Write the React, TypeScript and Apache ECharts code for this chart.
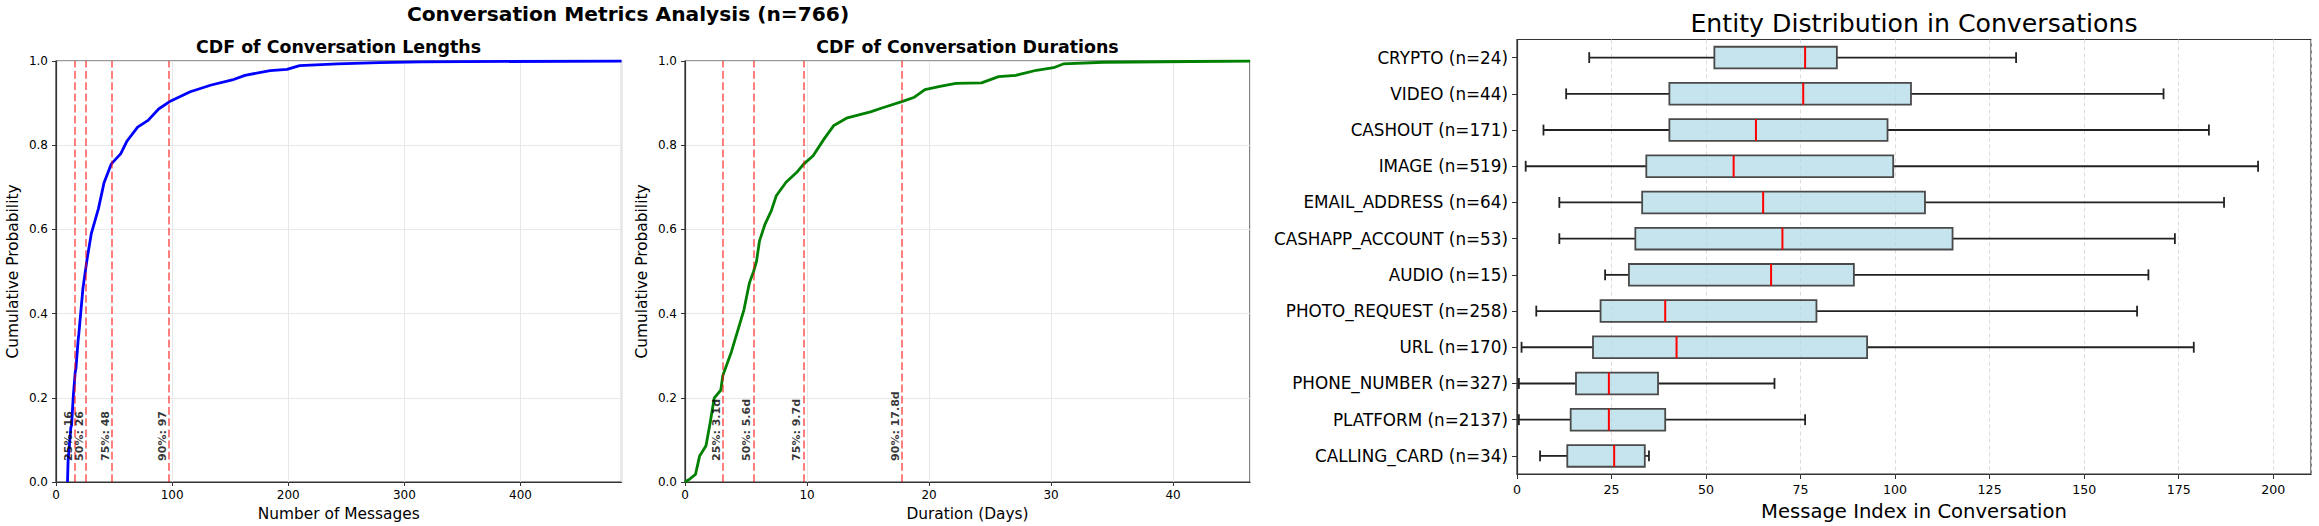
import React, { useEffect, useRef } from "react";
import * as echarts from "echarts";

// ---------- DATA ----------
const mainTitle = "Conversation Metrics Analysis (n=766)";
const lengthTitle = "CDF of Conversation Lengths";
const durationTitle = "CDF of Conversation Durations";
const boxTitle = "Entity Distribution in Conversations";

// CDF of conversation lengths (number of messages, cumulative probability)
const lengthX = [9.9, 10.4, 12.8, 13.4, 14.8, 16.5, 17.2, 19.1, 19.6, 23.2, 26.8, 30.4, 36.6, 41.3, 47.5, 55.8, 61.2, 70.3, 79.3, 88.4, 97.5, 115.6, 133.7, 151.8, 162.7, 184.4, 198.9, 209.8, 242.4, 278, 315, 487];
const lengthY = [0, 0.05, 0.13, 0.134, 0.2, 0.26, 0.27, 0.338, 0.35, 0.46, 0.53, 0.59, 0.65, 0.71, 0.755, 0.78, 0.81, 0.843, 0.859, 0.886, 0.903, 0.927, 0.943, 0.955, 0.966, 0.977, 0.98, 0.989, 0.993, 0.996, 0.998, 1.0];

// CDF of conversation durations (days, cumulative probability)
const durationX = [0, 0.34, 0.86, 1.2, 1.72, 2.07, 2.4, 2.93, 3.1, 3.8, 4.5, 4.83, 5.28, 5.62, 5.86, 6.1, 6.55, 7.07, 7.48, 8.28, 9.14, 9.72, 10.5, 11.4, 12.2, 13.3, 15.2, 16.2, 17.83, 18.8, 19.66, 20.9, 22.2, 24.3, 25.7, 27.1, 28.8, 30.2, 31.0, 34.3, 46.3];
const durationY = [0, 0.006, 0.018, 0.062, 0.086, 0.142, 0.2, 0.218, 0.253, 0.309, 0.377, 0.409, 0.473, 0.5, 0.524, 0.572, 0.612, 0.644, 0.68, 0.712, 0.735, 0.755, 0.775, 0.815, 0.847, 0.865, 0.879, 0.889, 0.904, 0.914, 0.932, 0.94, 0.947, 0.948, 0.963, 0.966, 0.978, 0.984, 0.993, 0.997, 1.0];

const pctNames = ["25%", "50%", "75%", "90%"];
const lengthPct = [16, 26, 48, 97];
const durationPct = [3.1, 5.6, 9.7, 17.8];
const pctLabelY = 0.05;

// Box plot (bottom to top)
const entities = ["CALLING_CARD (n=34)", "PLATFORM (n=2137)", "PHONE_NUMBER (n=327)", "URL (n=170)", "PHOTO_REQUEST (n=258)", "AUDIO (n=15)", "CASHAPP_ACCOUNT (n=53)", "EMAIL_ADDRESS (n=64)", "IMAGE (n=519)", "CASHOUT (n=171)", "VIDEO (n=44)", "CRYPTO (n=24)"];
const whiskerLow = [6.1, 0.5, 0.5, 1.2, 5.1, 23.3, 11.2, 11.2, 2.3, 7, 13, 19.1];
const q1 = [13.3, 14.2, 15.6, 20.1, 22.1, 29.6, 31.3, 33.1, 34.2, 40.3, 40.3, 52.2];
const median = [25.7, 24.3, 24.3, 42.2, 39.2, 67.2, 70.2, 65.1, 57.3, 63.2, 75.7, 76.2];
const q3 = [33.8, 39.2, 37.3, 92.6, 79.2, 89.1, 115.2, 107.9, 99.5, 98, 104.2, 84.6];
const whiskerHigh = [34.9, 76.2, 68.1, 179, 164, 167, 174, 187, 196, 183, 171, 132];

const FONT = "DejaVu Sans";

export default function App() {
  const ref = useRef<HTMLDivElement>(null);

  useEffect(() => {
    if (!ref.current) return;
    const chart = echarts.init(ref.current, undefined, { renderer: "svg" });

    const lengthData = lengthX.map((x, i) => [x, lengthY[i]]);
    const durationData = durationX.map((x, i) => [x, durationY[i]]);
    const boxData = entities.map((_, i) => [i, whiskerLow[i], q1[i], median[i], q3[i], whiskerHigh[i]]);

    const dashed = { type: [7.8, 3.4], color: "rgba(255,0,0,0.5)", width: 2 };

    const cdfGridAxis = (gridIndex: number, max: number, interval: number, name: string) => ({
      type: "value",
      gridIndex,
      min: 0,
      max,
      interval,
      name,
      nameLocation: "middle",
      nameGap: 24,
      nameTextStyle: { fontFamily: FONT, fontSize: 15.4, color: "#000" },
      axisLine: { show: true, lineStyle: { color: "#333", width: 1.2 } },
      axisTick: { show: true, length: 4, lineStyle: { color: "#333" } },
      axisLabel: { fontFamily: FONT, fontSize: 12, color: "#000", margin: 7, showMaxLabel: false },
      splitLine: { show: true, lineStyle: { color: "#e8e8e8", width: 1 } },
    });
    const cdfYAxis = (gridIndex: number) => ({
      type: "value",
      gridIndex,
      min: 0,
      max: 1,
      interval: 0.2,
      name: "Cumulative Probability",
      nameLocation: "middle",
      nameGap: 36,
      nameTextStyle: { fontFamily: FONT, fontSize: 15.4, color: "#000" },
      axisLine: { show: true, lineStyle: { color: "#333", width: 1.2 } },
      axisTick: { show: true, length: 4, lineStyle: { color: "#333" } },
      axisLabel: { fontFamily: FONT, fontSize: 12, color: "#000", margin: 8, formatter: (v: number) => v.toFixed(1) },
      splitLine: { show: true, lineStyle: { color: "#e8e8e8", width: 1 } },
    });

    const pctLabelSeries = (xAxisIndex: number, vals: number[], fmt: (v: number) => string) => ({
      type: "scatter",
      xAxisIndex,
      yAxisIndex: xAxisIndex,
      symbolSize: 0.1,
      silent: true,
      itemStyle: { color: "rgba(0,0,0,0)" },
      z: 5,
      data: vals.map((v, i) => ({ value: [v, pctLabelY], name: `${pctNames[i]}: ${fmt(v)}` })),
      label: {
        show: true,
        formatter: "{b}",
        position: [0, 0],
        align: "left",
        verticalAlign: "bottom",
        rotate: 90,
        offset: [0, -1],
        fontFamily: FONT,
        fontSize: 11,
        fontWeight: "bold",
        color: "#000",
      },
    });

    const option: any = {
      animation: false,
      backgroundColor: "#fff",
      graphic: [
        { type: "text", x: 628, y: 14, style: { text: mainTitle, font: `bold 20.2px "${FONT}"`, fill: "#000", textAlign: "center", textVerticalAlign: "middle" } },
        { type: "text", x: 338.5, y: 47, style: { text: lengthTitle, font: `bold 17.4px "${FONT}"`, fill: "#000", textAlign: "center", textVerticalAlign: "middle" } },
        { type: "text", x: 967.5, y: 47, style: { text: durationTitle, font: `bold 17.4px "${FONT}"`, fill: "#000", textAlign: "center", textVerticalAlign: "middle" } },
        { type: "text", x: 1914, y: 23, style: { text: boxTitle, font: `25.2px "${FONT}"`, fill: "#000", textAlign: "center", textVerticalAlign: "middle" } },
      ],
      grid: [
        { left: 56, top: 61, width: 565.5, height: 421.5, show: true, borderColor: "#333", borderWidth: 1.2, backgroundColor: "#fff" },
        { left: 685, top: 61, width: 565, height: 421.5, show: true, borderColor: "#333", borderWidth: 1.2, backgroundColor: "#fff" },
        { left: 1517, top: 39.5, width: 794, height: 438.5, show: true, borderColor: "#333", borderWidth: 1.2, backgroundColor: "#fff" },
      ],
      xAxis: [
        cdfGridAxis(0, 487, 100, "Number of Messages"),
        cdfGridAxis(1, 46.3, 10, "Duration (Days)"),
        {
          type: "value",
          gridIndex: 2,
          min: 0,
          max: 210,
          interval: 25,
          name: "Message Index in Conversation",
          nameLocation: "middle",
          nameGap: 27,
          nameTextStyle: { fontFamily: FONT, fontSize: 19.6, color: "#000" },
          axisLine: { show: true, lineStyle: { color: "#333", width: 1.2 } },
          axisTick: { show: true, length: 5, lineStyle: { color: "#333" } },
          axisLabel: { fontFamily: FONT, fontSize: 12.6, color: "#000", margin: 9, showMaxLabel: false },
          splitLine: { show: true, lineStyle: { color: "#dcdcdc", type: [4, 3], width: 1 } },
        },
      ],
      yAxis: [
        cdfYAxis(0),
        cdfYAxis(1),
        {
          type: "category",
          gridIndex: 2,
          data: entities,
          axisLine: { show: true, lineStyle: { color: "#333", width: 1.2 } },
          axisTick: { show: true, alignWithLabel: true, length: 5, lineStyle: { color: "#333" } },
          axisLabel: { fontFamily: FONT, fontSize: 16.8, color: "#000", margin: 9 },
          splitLine: { show: false },
        },
      ],
      series: [
        {
          type: "line",
          xAxisIndex: 0,
          yAxisIndex: 0,
          data: lengthData,
          showSymbol: false,
          lineStyle: { color: "#0000ff", width: 2.8 },
          z: 3,
          markLine: {
            silent: true,
            symbol: "none",
            label: { show: false },
            lineStyle: dashed,
            data: lengthPct.map((v) => ({ xAxis: v })),
          },
        },
        {
          type: "line",
          xAxisIndex: 1,
          yAxisIndex: 1,
          data: durationData,
          showSymbol: false,
          lineStyle: { color: "#008000", width: 2.8 },
          z: 3,
          markLine: {
            silent: true,
            symbol: "none",
            label: { show: false },
            lineStyle: dashed,
            data: durationPct.map((v) => ({ xAxis: v })),
          },
        },
        pctLabelSeries(0, lengthPct, (v) => `${v}`),
        pctLabelSeries(1, durationPct, (v) => `${v.toFixed(1)}d`),
        {
          type: "custom",
          xAxisIndex: 2,
          yAxisIndex: 2,
          data: boxData,
          encode: { x: [1, 2, 3, 4, 5], y: 0 },
          renderItem: (params: any, api: any) => {
            const cat = api.value(0);
            const lo = api.coord([api.value(1), cat]);
            const a = api.coord([api.value(2), cat]);
            const m = api.coord([api.value(3), cat]);
            const b = api.coord([api.value(4), cat]);
            const hi = api.coord([api.value(5), cat]);
            const band = api.size([0, 1])[1];
            const h = band * 0.6;
            const cy = lo[1];
            const cap = h / 4;
            const lineStyle = { stroke: "#222", lineWidth: 1.8 };
            return {
              type: "group",
              children: [
                { type: "line", shape: { x1: lo[0], y1: cy, x2: a[0], y2: cy }, style: lineStyle },
                { type: "line", shape: { x1: b[0], y1: cy, x2: hi[0], y2: cy }, style: lineStyle },
                { type: "line", shape: { x1: lo[0], y1: cy - cap, x2: lo[0], y2: cy + cap }, style: lineStyle },
                { type: "line", shape: { x1: hi[0], y1: cy - cap, x2: hi[0], y2: cy + cap }, style: lineStyle },
                { type: "rect", shape: { x: a[0], y: cy - h / 2, width: b[0] - a[0], height: h }, style: { fill: "rgba(173,216,230,0.7)", stroke: "#4a4a4a", lineWidth: 1.8 } },
                { type: "line", shape: { x1: m[0], y1: cy - h / 2, x2: m[0], y2: cy + h / 2 }, style: { stroke: "#ff0000", lineWidth: 2 } },
              ],
            };
          },
        },
      ],
    };

    chart.setOption(option);
    return () => chart.dispose();
  }, []);

  return <div ref={ref} style={{ position: "fixed", left: 0, top: 0, width: 2319, height: 526 }} />;
}
